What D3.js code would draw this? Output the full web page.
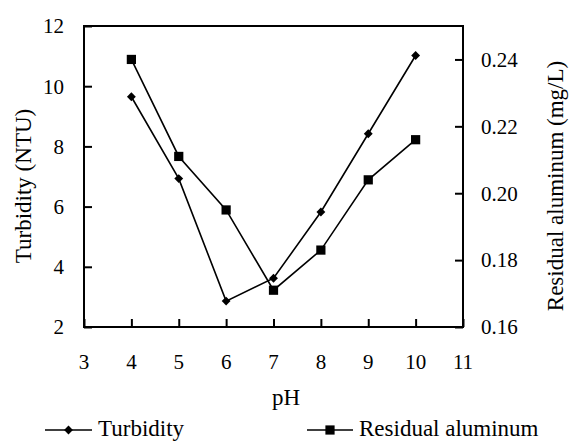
<!DOCTYPE html>
<html>
<head>
<meta charset="utf-8">
<script src="https://cdn.jsdelivr.net/npm/d3@7"></script>
<style>
  body { margin: 0; background: #fff; }
</style>
</head>
<body>
<div id="chart"></div>
<script>
// data
const ph = [4, 5, 6, 7, 8, 9, 10];
const turbidity = [9.65, 6.93, 2.86, 3.62, 5.82, 8.42, 11.02];
const residualAl = [0.240, 0.211, 0.195, 0.171, 0.183, 0.204, 0.216];
const xTicks = [3, 4, 5, 6, 7, 8, 9, 10, 11];
const leftTicks = [2, 4, 6, 8, 10, 12];
const rightTicks = [0.16, 0.18, 0.20, 0.22, 0.24];

const w = 573, h = 441;
const plot = { left: 84, right: 463, top: 26, bottom: 327 };
const serif = "'Liberation Serif', 'Times New Roman', 'DejaVu Serif', serif";

const svg = d3.select('#chart').append('svg')
  .attr('width', w).attr('height', h)
  .attr('viewBox', `0 0 ${w} ${h}`);

const x = d3.scaleLinear().domain([3, 11]).range([plot.left, plot.right]);
const yL = d3.scaleLinear().domain([2, 12]).range([plot.bottom, plot.top]);
const yR = d3.scaleLinear().domain([0.16, 0.25]).range([plot.bottom, plot.top]);

// frame
svg.append('rect')
  .attr('x', plot.left).attr('y', plot.top)
  .attr('width', plot.right - plot.left).attr('height', plot.bottom - plot.top)
  .attr('fill', 'none').attr('stroke', '#000').attr('stroke-width', 2);

// axes, ticks pointing inward
const xAxis = svg.append('g').attr('transform', `translate(0,${plot.bottom})`)
  .call(d3.axisTop(x).tickValues(xTicks).tickSize(8).tickFormat(''));
const lAxis = svg.append('g').attr('transform', `translate(${plot.left},0)`)
  .call(d3.axisRight(yL).tickValues(leftTicks).tickSize(8).tickFormat(''));
const rAxis = svg.append('g').attr('transform', `translate(${plot.right},0)`)
  .call(d3.axisLeft(yR).tickValues(rightTicks).tickSize(8).tickFormat(''));
[xAxis, lAxis, rAxis].forEach(g => {
  g.select('.domain').remove();
  g.selectAll('line').attr('stroke', '#000').attr('stroke-width', 2);
});

function label(sel) {
  return sel.style('font-family', serif).attr('fill', '#000');
}

// tick labels
svg.selectAll('.xl').data(xTicks).enter().append('text')
  .call(label)
  .attr('x', d => x(d)).attr('y', 369)
  .attr('text-anchor', 'middle').attr('font-size', 21)
  .text(d => d);
svg.selectAll('.ll').data(leftTicks).enter().append('text')
  .call(label)
  .attr('x', 64).attr('y', d => yL(d)).attr('dy', '0.35em')
  .attr('text-anchor', 'end').attr('font-size', 21)
  .text(d => d);
svg.selectAll('.rl').data(rightTicks).enter().append('text')
  .call(label)
  .attr('x', 481).attr('y', d => yR(d)).attr('dy', '0.35em')
  .attr('text-anchor', 'start').attr('font-size', 21)
  .text(d => d.toFixed(2));

// axis titles
svg.append('text').call(label)
  .attr('x', 286).attr('y', 405)
  .attr('text-anchor', 'middle').attr('font-size', 23)
  .text('pH');
svg.append('text').call(label)
  .attr('transform', 'translate(31,186) rotate(-90)')
  .attr('text-anchor', 'middle').attr('font-size', 23)
  .text('Turbidity (NTU)');
svg.append('text').call(label)
  .attr('transform', 'translate(563,186) rotate(-90)')
  .attr('text-anchor', 'middle').attr('font-size', 23)
  .text('Residual aluminum (mg/L)');

// series
const lineT = d3.line().x((d, i) => x(ph[i])).y(d => yL(d));
const lineA = d3.line().x((d, i) => x(ph[i])).y(d => yR(d));
svg.append('path').attr('d', lineT(turbidity))
  .attr('fill', 'none').attr('stroke', '#000').attr('stroke-width', 1.6);
svg.append('path').attr('d', lineA(residualAl))
  .attr('fill', 'none').attr('stroke', '#000').attr('stroke-width', 1.6);

const diamond = d3.symbol().type(d3.symbolDiamond2).size(50);
const square = d3.symbol().type(d3.symbolSquare).size(85);

svg.selectAll('.mt').data(turbidity).enter().append('path')
  .attr('d', diamond)
  .attr('transform', (d, i) => `translate(${x(ph[i])},${yL(d)})`)
  .attr('fill', '#000');
svg.selectAll('.ma').data(residualAl).enter().append('path')
  .attr('d', square)
  .attr('transform', (d, i) => `translate(${x(ph[i])},${yR(d)})`)
  .attr('fill', '#000');

// legend
const legend = [
  { name: 'Turbidity', x0: 45, x1: 92, sym: diamond },
  { name: 'Residual aluminum', x0: 307, x1: 353, sym: square }
];
const ly = 430;
legend.forEach(l => {
  svg.append('line')
    .attr('x1', l.x0).attr('x2', l.x1).attr('y1', ly).attr('y2', ly)
    .attr('stroke', '#000').attr('stroke-width', 1.6);
  svg.append('path').attr('d', l.sym)
    .attr('transform', `translate(${(l.x0 + l.x1) / 2},${ly})`)
    .attr('fill', '#000');
  svg.append('text').call(label)
    .attr('x', l.x1 + 6).attr('y', 436)
    .attr('font-size', 23)
    .text(l.name);
});
</script>
</body>
</html>
